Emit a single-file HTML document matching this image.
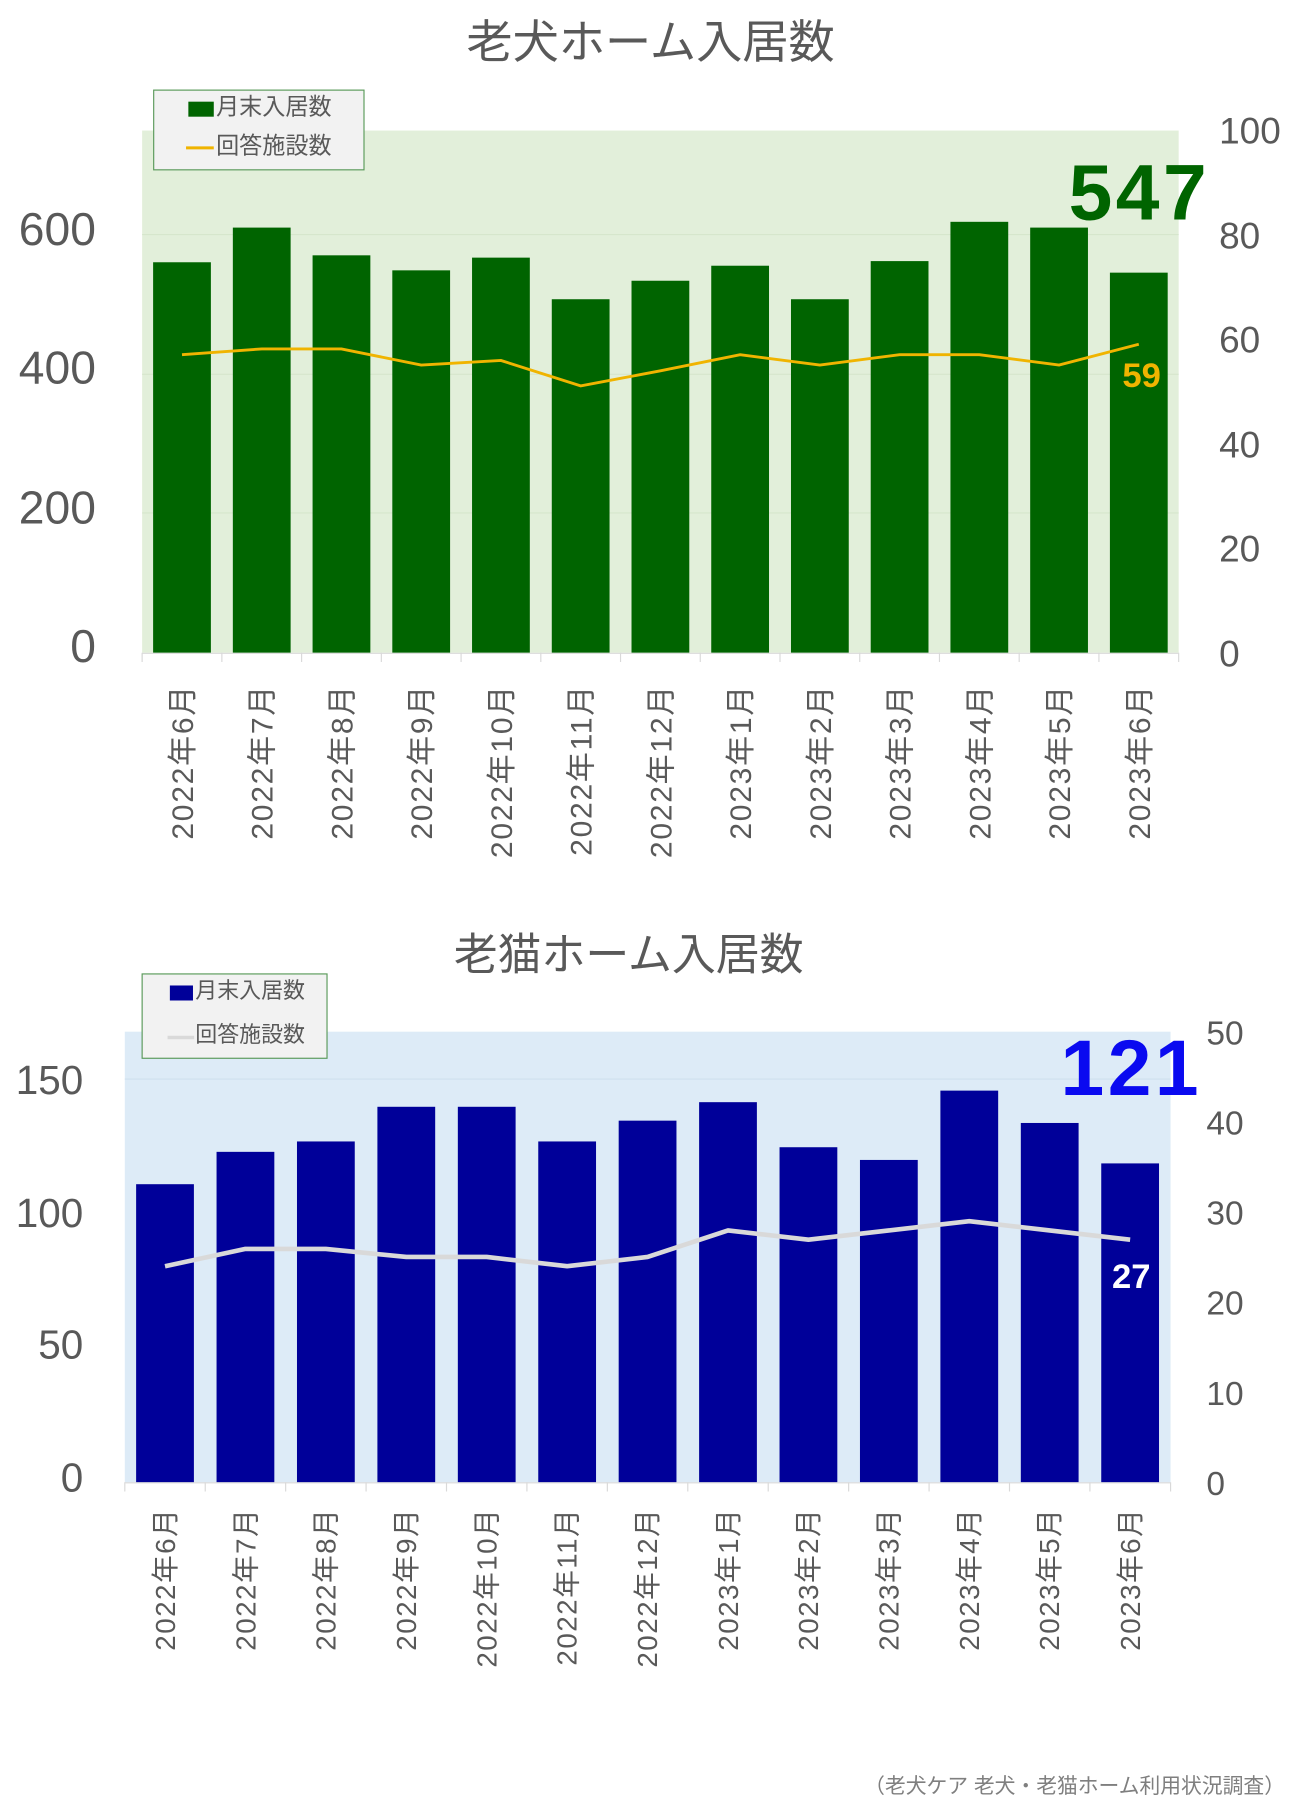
<!DOCTYPE html>
<html><head><meta charset="utf-8"><style>
html,body{margin:0;padding:0;background:#fff;}
svg{display:block;}
text{font-family:"Liberation Sans","Noto Sans CJK JP",sans-serif;}
</style></head><body>
<svg width="1300" height="1815" viewBox="0 0 1125 1571" preserveAspectRatio="none" xmlns="http://www.w3.org/2000/svg">
<rect width="1125" height="1571" fill="#fff"/>
<!-- Chart 1 -->
<text x="563" y="50" font-size="40" fill="#595959" text-anchor="middle">老犬ホーム入居数</text>
<rect x="123" y="113" width="897" height="452" fill="#e2efda"/>
<g stroke="#d6e6cc" stroke-width="1">
<line x1="123" y1="203" x2="1020" y2="203"/><line x1="123" y1="324" x2="1020" y2="324"/><line x1="123" y1="444" x2="1020" y2="444"/>
</g>
<g fill="#006400">
<rect x="132.5" y="227" width="50" height="338"/>
<rect x="201.5" y="197" width="50" height="368"/>
<rect x="270.5" y="221" width="50" height="344"/>
<rect x="339.5" y="234" width="50" height="331"/>
<rect x="408.5" y="223" width="50" height="342"/>
<rect x="477.5" y="259" width="50" height="306"/>
<rect x="546.5" y="243" width="50" height="322"/>
<rect x="615.5" y="230" width="50" height="335"/>
<rect x="684.5" y="259" width="50" height="306"/>
<rect x="753.5" y="226" width="50" height="339"/>
<rect x="822.5" y="192" width="50" height="373"/>
<rect x="891.5" y="197" width="50" height="368"/>
<rect x="960.5" y="236" width="50" height="329"/>
</g>
<polyline fill="none" stroke="#f0b400" stroke-width="2.5" points="157.5,307 226.5,302 295.5,302 364.5,316 433.5,312 502.5,334 571.5,321 640.5,307 709.5,316 778.5,307 847.5,307 916.5,316 985.5,298"/>
<line x1="123" y1="565.5" x2="1020" y2="565.5" stroke="#d9d9d9"/>
<g stroke="#d9d9d9">
<line x1="123" y1="565" x2="123" y2="573"/><line x1="192" y1="565" x2="192" y2="573"/><line x1="261" y1="565" x2="261" y2="573"/><line x1="330" y1="565" x2="330" y2="573"/><line x1="399" y1="565" x2="399" y2="573"/><line x1="468" y1="565" x2="468" y2="573"/><line x1="537" y1="565" x2="537" y2="573"/><line x1="606" y1="565" x2="606" y2="573"/><line x1="675" y1="565" x2="675" y2="573"/><line x1="744" y1="565" x2="744" y2="573"/><line x1="813" y1="565" x2="813" y2="573"/><line x1="882" y1="565" x2="882" y2="573"/><line x1="951" y1="565" x2="951" y2="573"/><line x1="1020" y1="565" x2="1020" y2="573"/>
</g>
<g font-size="40" fill="#595959" text-anchor="end">
<text x="83" y="212">600</text><text x="83" y="332">400</text><text x="83" y="453">200</text><text x="83" y="573">0</text>
</g>
<g font-size="32" fill="#595959">
<text x="1055" y="124">100</text><text x="1055" y="215">80</text><text x="1055" y="305">60</text><text x="1055" y="396">40</text><text x="1055" y="486">20</text><text x="1055" y="577">0</text>
</g>
<g font-size="26" fill="#595959" text-anchor="end" letter-spacing="1.5">
<text transform="translate(167,592) rotate(-90)">2022年6月</text>
<text transform="translate(236,592) rotate(-90)">2022年7月</text>
<text transform="translate(305,592) rotate(-90)">2022年8月</text>
<text transform="translate(374,592) rotate(-90)">2022年9月</text>
<text transform="translate(443,592) rotate(-90)">2022年10月</text>
<text transform="translate(512,592) rotate(-90)">2022年11月</text>
<text transform="translate(581,592) rotate(-90)">2022年12月</text>
<text transform="translate(650,592) rotate(-90)">2023年1月</text>
<text transform="translate(719,592) rotate(-90)">2023年2月</text>
<text transform="translate(788,592) rotate(-90)">2023年3月</text>
<text transform="translate(857,592) rotate(-90)">2023年4月</text>
<text transform="translate(926,592) rotate(-90)">2023年5月</text>
<text transform="translate(995,592) rotate(-90)">2023年6月</text>
</g>
<rect x="133" y="78" width="182" height="69" fill="#f2f2f2" stroke="#5a9a5a" stroke-width="1"/>
<rect x="163" y="88" width="22" height="13" fill="#006400"/>
<text x="187" y="99" font-size="20" fill="#595959">月末入居数</text>
<line x1="161" y1="128" x2="185" y2="128" stroke="#f0b400" stroke-width="2.5"/>
<text x="187" y="133" font-size="20" fill="#595959">回答施設数</text>
<text x="986" y="190" font-size="68" font-weight="bold" fill="#006400" text-anchor="middle" letter-spacing="3">547</text>
<text x="988" y="335" font-size="30" font-weight="bold" fill="#f0b400" text-anchor="middle">59</text>

<!-- Chart 2 -->
<text x="544" y="839" font-size="38" fill="#595959" text-anchor="middle">老猫ホーム入居数</text>
<rect x="108" y="893" width="905" height="390" fill="#ddebf7"/>
<line x1="108" y1="934" x2="1013" y2="934" stroke="#d0e0ee"/>
<g fill="#000099">
<rect x="117.8" y="1025" width="50" height="258"/>
<rect x="187.4" y="997" width="50" height="286"/>
<rect x="257" y="988" width="50" height="295"/>
<rect x="326.6" y="958" width="50" height="325"/>
<rect x="396.2" y="958" width="50" height="325"/>
<rect x="465.8" y="988" width="50" height="295"/>
<rect x="535.4" y="970" width="50" height="313"/>
<rect x="605" y="954" width="50" height="329"/>
<rect x="674.6" y="993" width="50" height="290"/>
<rect x="744.2" y="1004" width="50" height="279"/>
<rect x="813.8" y="944" width="50" height="339"/>
<rect x="883.4" y="972" width="50" height="311"/>
<rect x="953" y="1007" width="50" height="276"/>
</g>
<polyline fill="none" stroke="#d9d9d9" stroke-width="4" stroke-linejoin="round" points="142.8,1096 212.4,1081 282,1081 351.6,1088 421.2,1088 490.8,1096 560.4,1088 630,1065 699.6,1073 769.2,1065 838.8,1057 908.4,1065 978,1073"/>
<line x1="108" y1="1283.5" x2="1013" y2="1283.5" stroke="#d9d9d9"/>
<g stroke="#d9d9d9">
<line x1="108" y1="1283" x2="108" y2="1291"/><line x1="177.6" y1="1283" x2="177.6" y2="1291"/><line x1="247.2" y1="1283" x2="247.2" y2="1291"/><line x1="316.8" y1="1283" x2="316.8" y2="1291"/><line x1="386.4" y1="1283" x2="386.4" y2="1291"/><line x1="456" y1="1283" x2="456" y2="1291"/><line x1="525.6" y1="1283" x2="525.6" y2="1291"/><line x1="595.2" y1="1283" x2="595.2" y2="1291"/><line x1="664.8" y1="1283" x2="664.8" y2="1291"/><line x1="734.4" y1="1283" x2="734.4" y2="1291"/><line x1="804" y1="1283" x2="804" y2="1291"/><line x1="873.6" y1="1283" x2="873.6" y2="1291"/><line x1="943.2" y1="1283" x2="943.2" y2="1291"/><line x1="1013" y1="1283" x2="1013" y2="1291"/>
</g>
<g font-size="35" fill="#595959" text-anchor="end">
<text x="72" y="947">150</text><text x="72" y="1062">100</text><text x="72" y="1176">50</text><text x="72" y="1291">0</text>
</g>
<g font-size="29" fill="#595959">
<text x="1044" y="904">50</text><text x="1044" y="982">40</text><text x="1044" y="1060">30</text><text x="1044" y="1138">20</text><text x="1044" y="1216">10</text><text x="1044" y="1294">0</text>
</g>
<g font-size="24" fill="#595959" text-anchor="end" letter-spacing="1.3">
<text transform="translate(151.5,1305) rotate(-90)">2022年6月</text>
<text transform="translate(221,1305) rotate(-90)">2022年7月</text>
<text transform="translate(290.5,1305) rotate(-90)">2022年8月</text>
<text transform="translate(360,1305) rotate(-90)">2022年9月</text>
<text transform="translate(429.5,1305) rotate(-90)">2022年10月</text>
<text transform="translate(499,1305) rotate(-90)">2022年11月</text>
<text transform="translate(568.5,1305) rotate(-90)">2022年12月</text>
<text transform="translate(638.5,1305) rotate(-90)">2023年1月</text>
<text transform="translate(708,1305) rotate(-90)">2023年2月</text>
<text transform="translate(777.5,1305) rotate(-90)">2023年3月</text>
<text transform="translate(847,1305) rotate(-90)">2023年4月</text>
<text transform="translate(916.5,1305) rotate(-90)">2023年5月</text>
<text transform="translate(986.5,1305) rotate(-90)">2023年6月</text>
</g>
<rect x="123" y="843" width="160" height="73" fill="#f2f2f2" stroke="#5a9a5a" stroke-width="1"/>
<rect x="147" y="853" width="20" height="13" fill="#000099"/>
<text x="169" y="864" font-size="19" fill="#595959">月末入居数</text>
<line x1="145" y1="898" x2="168" y2="898" stroke="#d9d9d9" stroke-width="3"/>
<text x="169" y="902" font-size="19" fill="#595959">回答施設数</text>
<text x="979" y="948" font-size="68" font-weight="bold" fill="#0a0af0" text-anchor="middle" letter-spacing="3">121</text>
<text x="979" y="1115" font-size="30" font-weight="bold" fill="#ffffff" text-anchor="middle">27</text>

<text x="1112" y="1552" font-size="18" fill="#7f7f7f" text-anchor="end">（老犬ケア 老犬・老猫ホーム利用状況調査）</text>
</svg>
</body></html>
